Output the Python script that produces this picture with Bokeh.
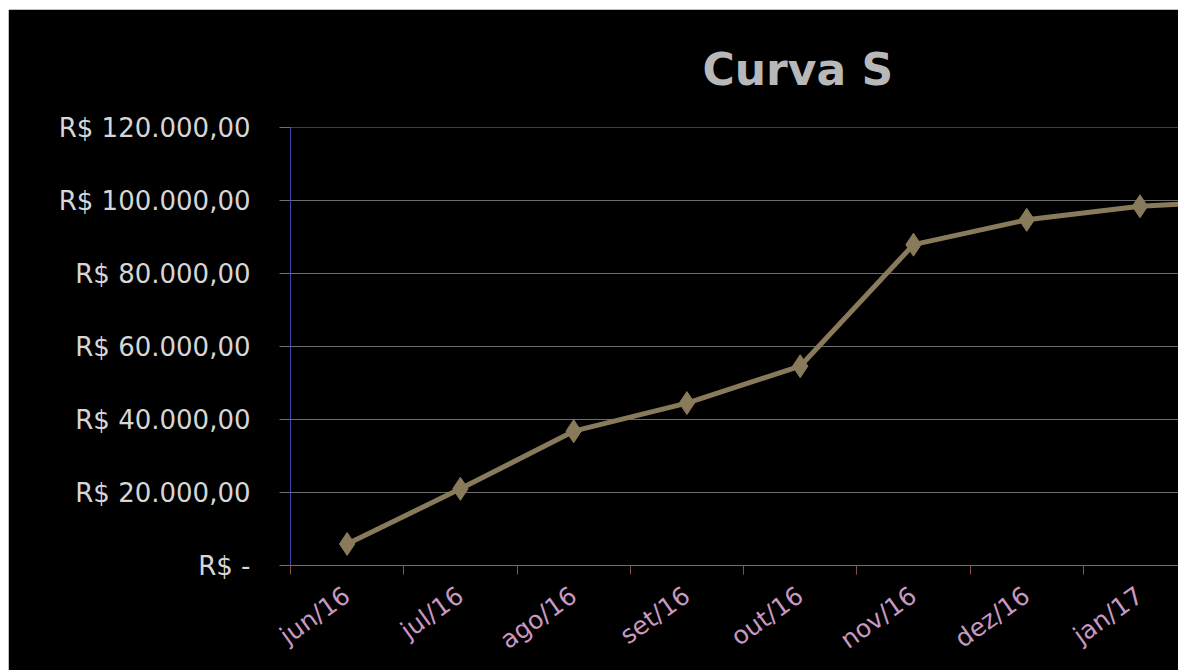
from bokeh.plotting import figure
from bokeh.models import Range1d, FixedTicker, Spacer, Title
from bokeh.layouts import column, row
from bokeh.embed import file_html
from bokeh.resources import INLINE

# ---- data ----
months = ["jun/16", "jul/16", "ago/16", "set/16", "out/16", "nov/16", "dez/16", "jan/17", "fev/17"]
cumulative = [5900, 21000, 36800, 44500, 54600, 87900, 94700, 98400, 100200]
y_ticks = [0, 20000, 40000, 60000, 80000, 100000, 120000]
y_tick_labels = ["R$ -", "R$ 20.000,00", "R$ 40.000,00", "R$ 60.000,00",
                 "R$ 80.000,00", "R$ 100.000,00", "R$ 120.000,00"]
title_text = "Curva S"

x = list(range(1, len(months) + 1))
FONT = "DejaVu Sans"

p = figure(width=1170, height=661, output_backend="svg", toolbar_location=None,
           x_range=Range1d(0.5, 8.34), y_range=Range1d(0, 120000),
           background_fill_color="black", border_fill_color="black",
           min_border_left=282, min_border_right=0, min_border_top=118,
           min_border_bottom=105)
p.outline_line_color = None

p.title = Title(text=title_text, align="left", offset=412, standoff=65,
                text_font=FONT, text_font_style="bold", text_font_size="44px",
                text_color="#b8b8b8")

# x axis: labels at category centres, tick marks between categories
xa = p.xaxis[0]
xa.ticker = FixedTicker(ticks=x, minor_ticks=[i + 0.5 for i in range(len(months) + 1)])
xa.major_label_overrides = {i: m for i, m in zip(x, months)}
xa.major_tick_out = 0
xa.major_tick_in = 0
xa.minor_tick_out = 9
xa.minor_tick_in = 0
xa.minor_tick_line_color = "#8a5050"
xa.axis_line_color = "#707070"
xa.major_label_orientation = 0.62
xa.major_label_standoff = 18
xa.major_label_text_font = FONT
xa.major_label_text_font_size = "25px"
xa.major_label_text_color = "#c898c0"

ya = p.yaxis[0]
ya.ticker = FixedTicker(ticks=y_ticks, minor_ticks=[])
ya.major_label_overrides = {v: t for v, t in zip(y_ticks, y_tick_labels)}
ya.major_tick_out = 11
ya.major_tick_in = 0
ya.major_tick_line_color = "#707070"
ya.minor_tick_line_color = None
ya.axis_line_color = "#3a46b0"
ya.major_label_standoff = 29
ya.major_label_text_font = FONT
ya.major_label_text_font_size = "26px"
ya.major_label_text_color = "#d6d6d6"

p.xgrid.visible = False
p.ygrid.grid_line_color = "#6e6e6e"
p.ygrid.grid_line_width = 1

line_color = "#8a7a5c"
p.line(x, cumulative, line_color=line_color, line_width=5)
p.scatter(x, cumulative, marker="diamond", size=23, fill_color=line_color,
          line_color=line_color)

layout = row(Spacer(width=8, height=670),
             column(Spacer(width=1170, height=9), p, spacing=0),
             spacing=0)
open("out.html", "w").write(file_html(layout, INLINE))
